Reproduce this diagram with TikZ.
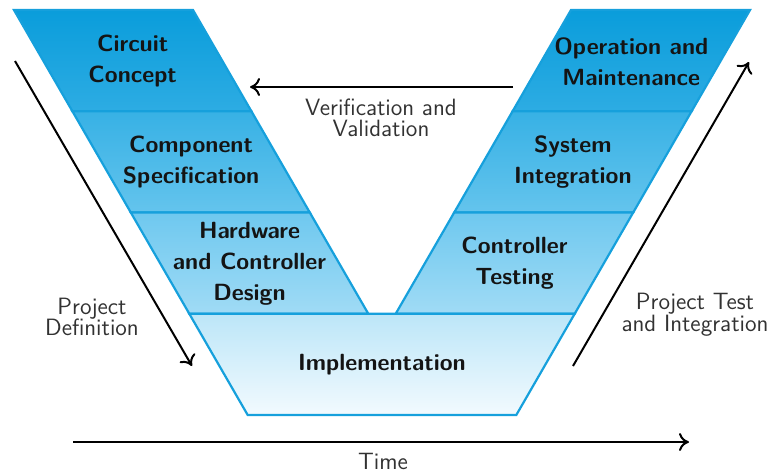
\documentclass[tikz,border=0pt]{standalone}
\usetikzlibrary{arrows.meta}
\definecolor{vline}{RGB}{22,160,220}
\definecolor{c1t}{RGB}{10,157,219}
\definecolor{c1b}{RGB}{45,172,227}
\definecolor{c2t}{RGB}{55,177,229}
\definecolor{c2b}{RGB}{100,196,237}
\definecolor{c3t}{RGB}{110,200,239}
\definecolor{c3b}{RGB}{160,219,245}
\definecolor{c4t}{RGB}{188,230,248}
\definecolor{c4b}{RGB}{242,250,254}
\definecolor{txt}{RGB}{20,20,20}
\definecolor{ntxt}{RGB}{50,50,50}
\begin{document}
\begin{tikzpicture}[x=0.5pt,y=-0.5pt,
  sec/.style={draw=vline, line width=1.1pt, line join=miter},
  lbl/.style={font=\sffamily\bfseries\fontsize{11.7}{15.5}\selectfont, align=center, text=txt},
  note/.style={font=\sffamily\fontsize{11.8}{10.8}\selectfont, align=center, text=ntxt},
  arr/.style={line width=1pt, draw=black, -{To[length=5pt,width=9pt]}}]
\useasboundingbox (0,0) rectangle (771,472);
% left arm
\path[sec, top color=c1t, bottom color=c1b] (14,10) -- (193,10) -- (251.4,111.25) -- (72.4,111.25) -- cycle;
\path[sec, top color=c2t, bottom color=c2b] (72.4,111.25) -- (251.4,111.25) -- (309.8,212.5) -- (130.8,212.5) -- cycle;
\path[sec, top color=c3t, bottom color=c3b] (130.8,212.5) -- (309.8,212.5) -- (368.3,313.75) -- (189.3,313.75) -- cycle;
% right arm
\path[sec, top color=c1t, bottom color=c1b] (571,10) -- (750,10) -- (691.6,111.25) -- (512.6,111.25) -- cycle;
\path[sec, top color=c2t, bottom color=c2b] (512.6,111.25) -- (691.6,111.25) -- (633.2,212.5) -- (454.2,212.5) -- cycle;
\path[sec, top color=c3t, bottom color=c3b] (454.2,212.5) -- (633.2,212.5) -- (574.7,313.75) -- (395.7,313.75) -- cycle;
% bottom
\path[sec, top color=c4t, bottom color=c4b] (189.3,313.75) -- (574.7,313.75) -- (516.3,415) -- (247.7,415) -- cycle;
% labels
\node[lbl] (cc) at (132.7,61.5) {Circuit\\Concept};
\node[lbl] (cs) at (191.1,162.5) {Component\\Specification};
\node[lbl] (hw) at (249.5,263.5) {Hardware\\and Controller\\Design};
\node[lbl] (om) at (631.3,61.5) {Operation and\\Maintenance};
\node[lbl] (si) at (572.9,162.5) {System\\Integration};
\node[lbl] (ct) at (514.5,263.5) {Controller\\Testing};
\node[lbl] (im) at (382,365) {Implementation};
% notes
\node[note] (vv) at (381,118) {Verification and\\Validation};
\node[note] (pd) at (92,317) {Project\\Definition};
\node[note] (pt) at (695,315) {Project Test\\and Integration};
\node[note] (tm) at (383,461) {Time};
% arrows
\coordinate (vvs) at (513,87);
\coordinate (vve) at (250,87);
\coordinate (pds) at (15,61);
\coordinate (pde) at (192,366);
\coordinate (pts) at (573,366);
\coordinate (pte) at (749,62);
\coordinate (tms) at (73,442);
\coordinate (tme) at (689,442);
\draw[arr] (vvs) -- (vve);
\draw[arr] (pds) -- (pde);
\draw[arr] (pts) -- (pte);
\draw[arr] (tms) -- (tme);
\end{tikzpicture}
\end{document}
